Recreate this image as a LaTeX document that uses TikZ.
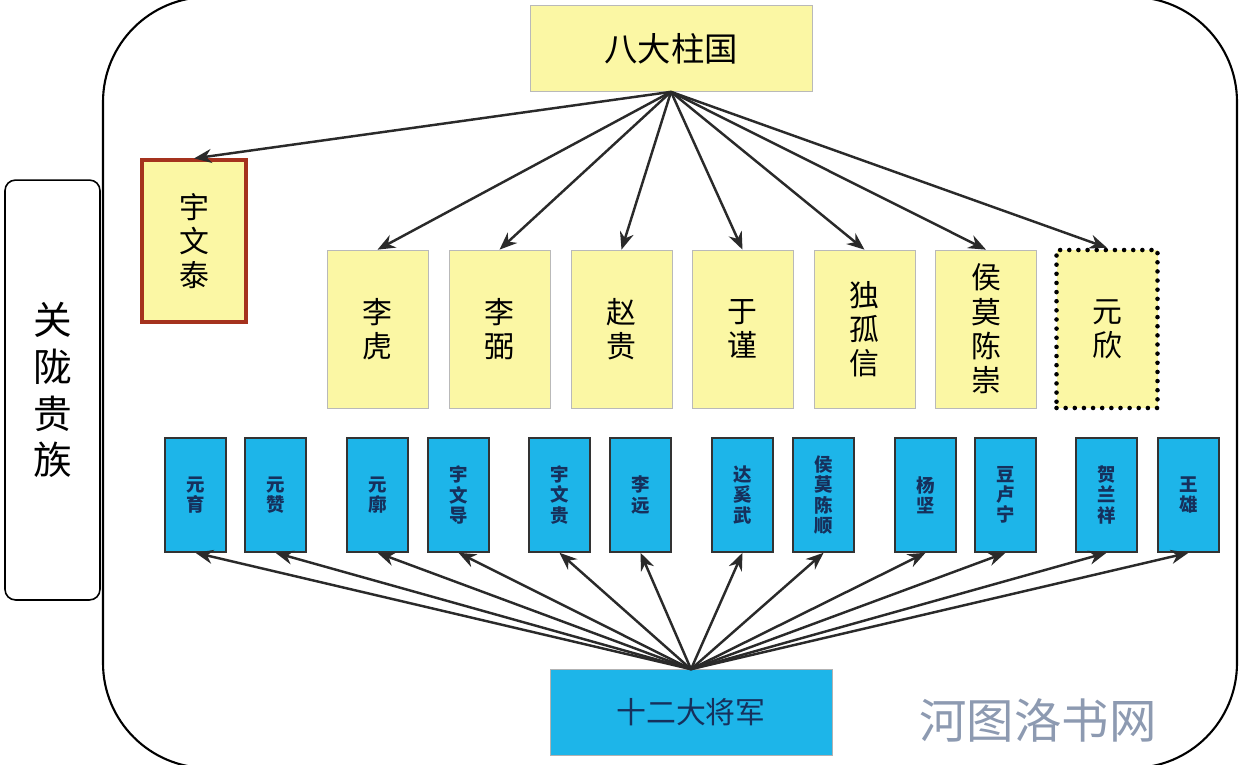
\documentclass[tikz,border=0pt]{standalone}
\usepackage{fontspec}
\setmainfont{Noto Sans CJK SC}
\usetikzlibrary{arrows.meta, positioning}
\definecolor{pillarYellow}{HTML}{FBF7A4}
\definecolor{generalBlue}{HTML}{1DB5E9}
\definecolor{navyText}{HTML}{16305C}
\definecolor{taiRed}{HTML}{A5321E}
\definecolor{markGray}{HTML}{8D9AB1}
\definecolor{arrowGray}{HTML}{2A2A2A}

\tikzset{
  pillar/.style={draw=gray!55, fill=pillarYellow, minimum width=2.02cm, minimum height=3.16cm,
    align=center, inner sep=0pt, font=\fontsize{17}{19.5}\selectfont},
  general/.style={draw=black!80, line width=0.9pt, fill=generalBlue, minimum width=1.22cm, minimum height=2.28cm,
    align=center, inner sep=0pt, text=navyText, font=\bfseries\fontsize{10.5}{11.5}\selectfont},
  titlebox/.style={minimum width=5.64cm, minimum height=1.72cm, inner sep=0pt},
  link/.style={arrowGray, line width=1.4pt, -{Stealth[length=10pt, width=8pt]}},
}

\begin{document}
\begin{tikzpicture}[x=0.02cm, y=-0.02cm]
    \useasboundingbox (0,0) rectangle (1240,764);

    % Frames
    \draw[line width=1.2pt, rounded corners=2.1cm] (103,-3) rectangle (1237,768);
    \node[draw, line width=0.9pt, rounded corners=6pt, minimum width=1.9cm, minimum height=8.4cm,
      align=center, inner sep=0pt, font=\fontsize{22}{26.7}\selectfont] (guanlong) at (52.5,390) {关\\陇\\贵\\族};

    % Eight pillars
    \node[titlebox, draw=gray!55, fill=pillarYellow, font=\fontsize{19}{21}\selectfont] (pillars) at (671,48.5) {八大柱国};
    \node[pillar, draw=taiRed, line width=1.8pt, minimum width=2.08cm, minimum height=3.24cm] (yuwentai) at (194,241) {宇\\文\\泰};
    \node[pillar] (lihu) at (377.5,329) {李\\虎};
    \node[pillar] (libi) at (499.5,329) {李\\弼};
    \node[pillar] (zhaogui) at (621.5,329) {赵\\贵};
    \node[pillar] (yujin) at (742.5,329) {于\\谨};
    \node[pillar] (duguxin) at (864.5,329) {独\\孤\\信};
    \node[pillar] (houmochong) at (986,329) {侯\\莫\\陈\\崇};
    \node[pillar, draw=black, line width=2.6pt, dash pattern=on 0pt off 5.2pt, line cap=round] (yuanxin) at (1107,329) {元\\欣};

    \foreach \n in {yuwentai, lihu, libi, zhaogui, yujin, duguxin, houmochong, yuanxin}
        \draw[link] (pillars.south) -- (\n.north);

    % Twelve generals
    \node[titlebox, draw=gray!60, fill=generalBlue, text=navyText, font=\fontsize{17}{19}\selectfont] (generals) at (691,712.5) {十二大将军};
    \foreach \x/\n/\t in {195.5/yuanyu/元\\育, 275.5/yuanzan/元\\赞, 377.5/yuankuo/元\\廓,
        458.5/yuwendao/宇\\文\\导, 559.5/yuwengui/宇\\文\\贵, 640.5/liyuan/李\\远,
        742.5/daxiwu/达\\奚\\武, 823.5/houmoshun/侯\\莫\\陈\\顺, 925.5/yangjian/杨\\坚,
        1005.5/doulu/豆\\卢\\宁, 1106.5/helan/贺\\兰\\祥, 1188.5/wangxiong/王\\雄} {
        \node[general] (\n) at (\x,495) {\t};
        \draw[link] (generals.north) -- (\n.south);
    }

    % Watermark
    \node[text=markGray, font=\fontsize{27}{30}\selectfont] (mark) at (1038,720) {河图洛书网};
\end{tikzpicture}
\end{document}
